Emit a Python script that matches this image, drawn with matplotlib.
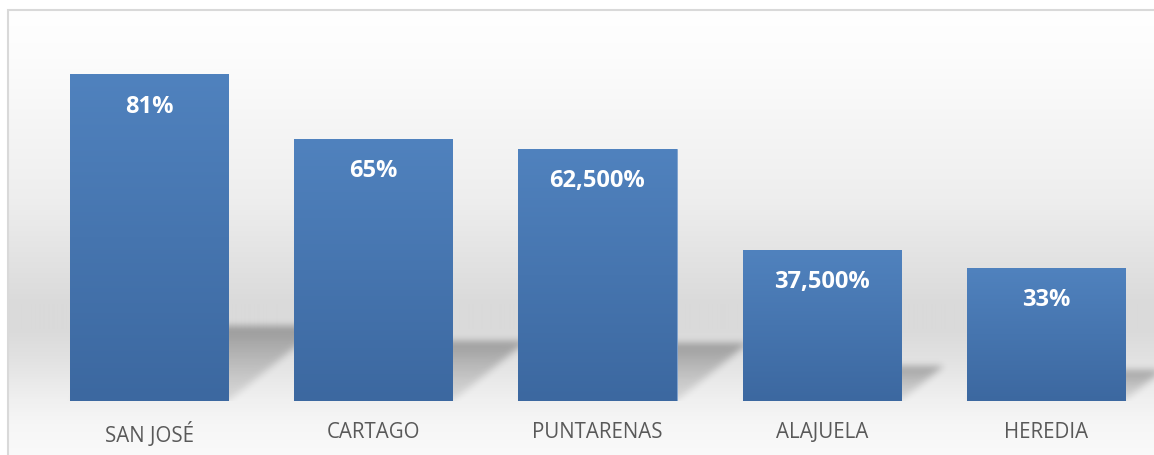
import numpy as np
import matplotlib.pyplot as plt
from matplotlib.patches import Rectangle

# data
provinces = ["SAN JOSÉ", "CARTAGO", "PUNTARENAS", "ALAJUELA", "HEREDIA"]
values = [81, 65, 62.5, 37.5, 33]
value_labels = ["81%", "65%", "62,500%", "37,500%", "33%"]

W, H, DPI = 1154, 456, 100
fig = plt.figure(figsize=(W / DPI, H / DPI), dpi=DPI)
fig.patch.set_facecolor("white")

# chart area background (vertical gray gradient) + light border
bg = fig.add_axes([7 / W, 0, 1 - 7 / W, (H - 10) / H])
bg.set_axis_off()
ys = np.array([10, 60, 200, 305, 330, 360, 400, 425, 456]) - 10   # px from chart top
gs = np.array([255, 252, 238, 218, 218, 226, 240, 246, 250]) / 255.0
prof = np.interp(np.arange(H - 10), ys, gs)
grad = np.repeat(prof[:, None], 4, axis=1)
bg.imshow(np.dstack([grad, grad, grad]), aspect="auto", extent=(0, 1, 0, 1),
          interpolation="bilinear")
bg.set_xlim(0, 1)
bg.set_ylim(0, 1)
bg.add_patch(Rectangle((0.0005, -0.05), 1.2, 1.048, fill=False, edgecolor="#d9d9d9",
                       linewidth=1.5, transform=bg.transAxes, clip_on=False))

# plot axes
px_per_unit = 4.025
ax_left, ax_right, ax_base, ax_top = 37, 1158, 401.5, 30
ax = fig.add_axes([ax_left / W, (H - ax_base) / H, (ax_right - ax_left) / W,
                   (ax_base - ax_top) / H])
ax.patch.set_visible(False)
ymax = (ax_base - ax_top) / px_per_unit
ax.set_xlim(-0.5, len(values) - 0.5)
ax.set_ylim(0, ymax)

x = np.arange(len(values))
bw = 0.705
bars = ax.bar(x, values, width=bw, color="#4a7ab5", edgecolor="#7fa2cf",
              linewidth=0.6, zorder=3)

# gradient fill inside each bar
top_c = np.array([80, 130, 190]) / 255.0
bot_c = np.array([60, 104, 160]) / 255.0
t = np.linspace(0, 1, 200)[:, None]
bar_grad = (top_c * (1 - t) + bot_c * t)[:, None, :].repeat(2, axis=1)
for b in bars:
    im = ax.imshow(bar_grad, aspect="auto", interpolation="bilinear", zorder=3.5,
                   extent=(b.get_x(), b.get_x() + b.get_width(), 0, b.get_height()))
    im.set_clip_path(b)

# soft perspective shadows (sheared, flattened copies of the bars)
nx, ny = int(ax_right - ax_left), int(ax_base - ax_top)
gx = np.linspace(-0.5, len(values) - 0.5, nx)
gy = np.linspace(0, ymax, ny)
X, Y = np.meshgrid(gx, gy)
shade = np.zeros_like(X)
unit_px_x = nx / len(values)
for xi, v in zip(x, values):
    hs = v * 0.23
    shear = hs * px_per_unit * 1.25 / unit_px_x
    inside = (Y <= hs) & (Y >= 0)
    xs = X - shear * np.clip(Y / hs, 0, 1)
    inside &= (xs >= xi - bw / 2) & (xs <= xi + bw / 2)
    w = 0.35 + 0.65 * np.clip(Y / hs, 0, 1) ** 1.5
    shade = np.maximum(shade, inside * w)
k = np.exp(-0.5 * (np.arange(-12, 13) / 3.5) ** 2)
k /= k.sum()
shade = np.apply_along_axis(lambda r: np.convolve(r, k, mode="same"), 1, shade)
shade = np.apply_along_axis(lambda c: np.convolve(c, k, mode="same"), 0, shade)
rgba = np.zeros(shade.shape + (4,))
rgba[..., 3] = shade * 0.3
ax.imshow(rgba, origin="lower", aspect="auto", interpolation="bilinear",
          extent=(-0.5, len(values) - 0.5, 0, ymax), zorder=2)
ax.set_xlim(-0.5, len(values) - 0.5)
ax.set_ylim(0, ymax)

# value labels
for b, lab in zip(bars, value_labels):
    ax.annotate(lab, (b.get_x() + b.get_width() / 2, b.get_height()),
                xytext=(0, -22.5), textcoords="offset points", ha="center",
                va="center", color="white", fontsize=17, fontweight="bold",
                family="Open Sans", zorder=5)

ax.set_xticks(x)
ax.set_xticklabels(provinces, family="Open Sans", fontsize=14.8, color="#595959")
ax.tick_params(axis="x", length=0, pad=15)
ax.set_yticks([])
for s in ax.spines.values():
    s.set_visible(False)

fig.savefig("out.png", dpi=DPI)
